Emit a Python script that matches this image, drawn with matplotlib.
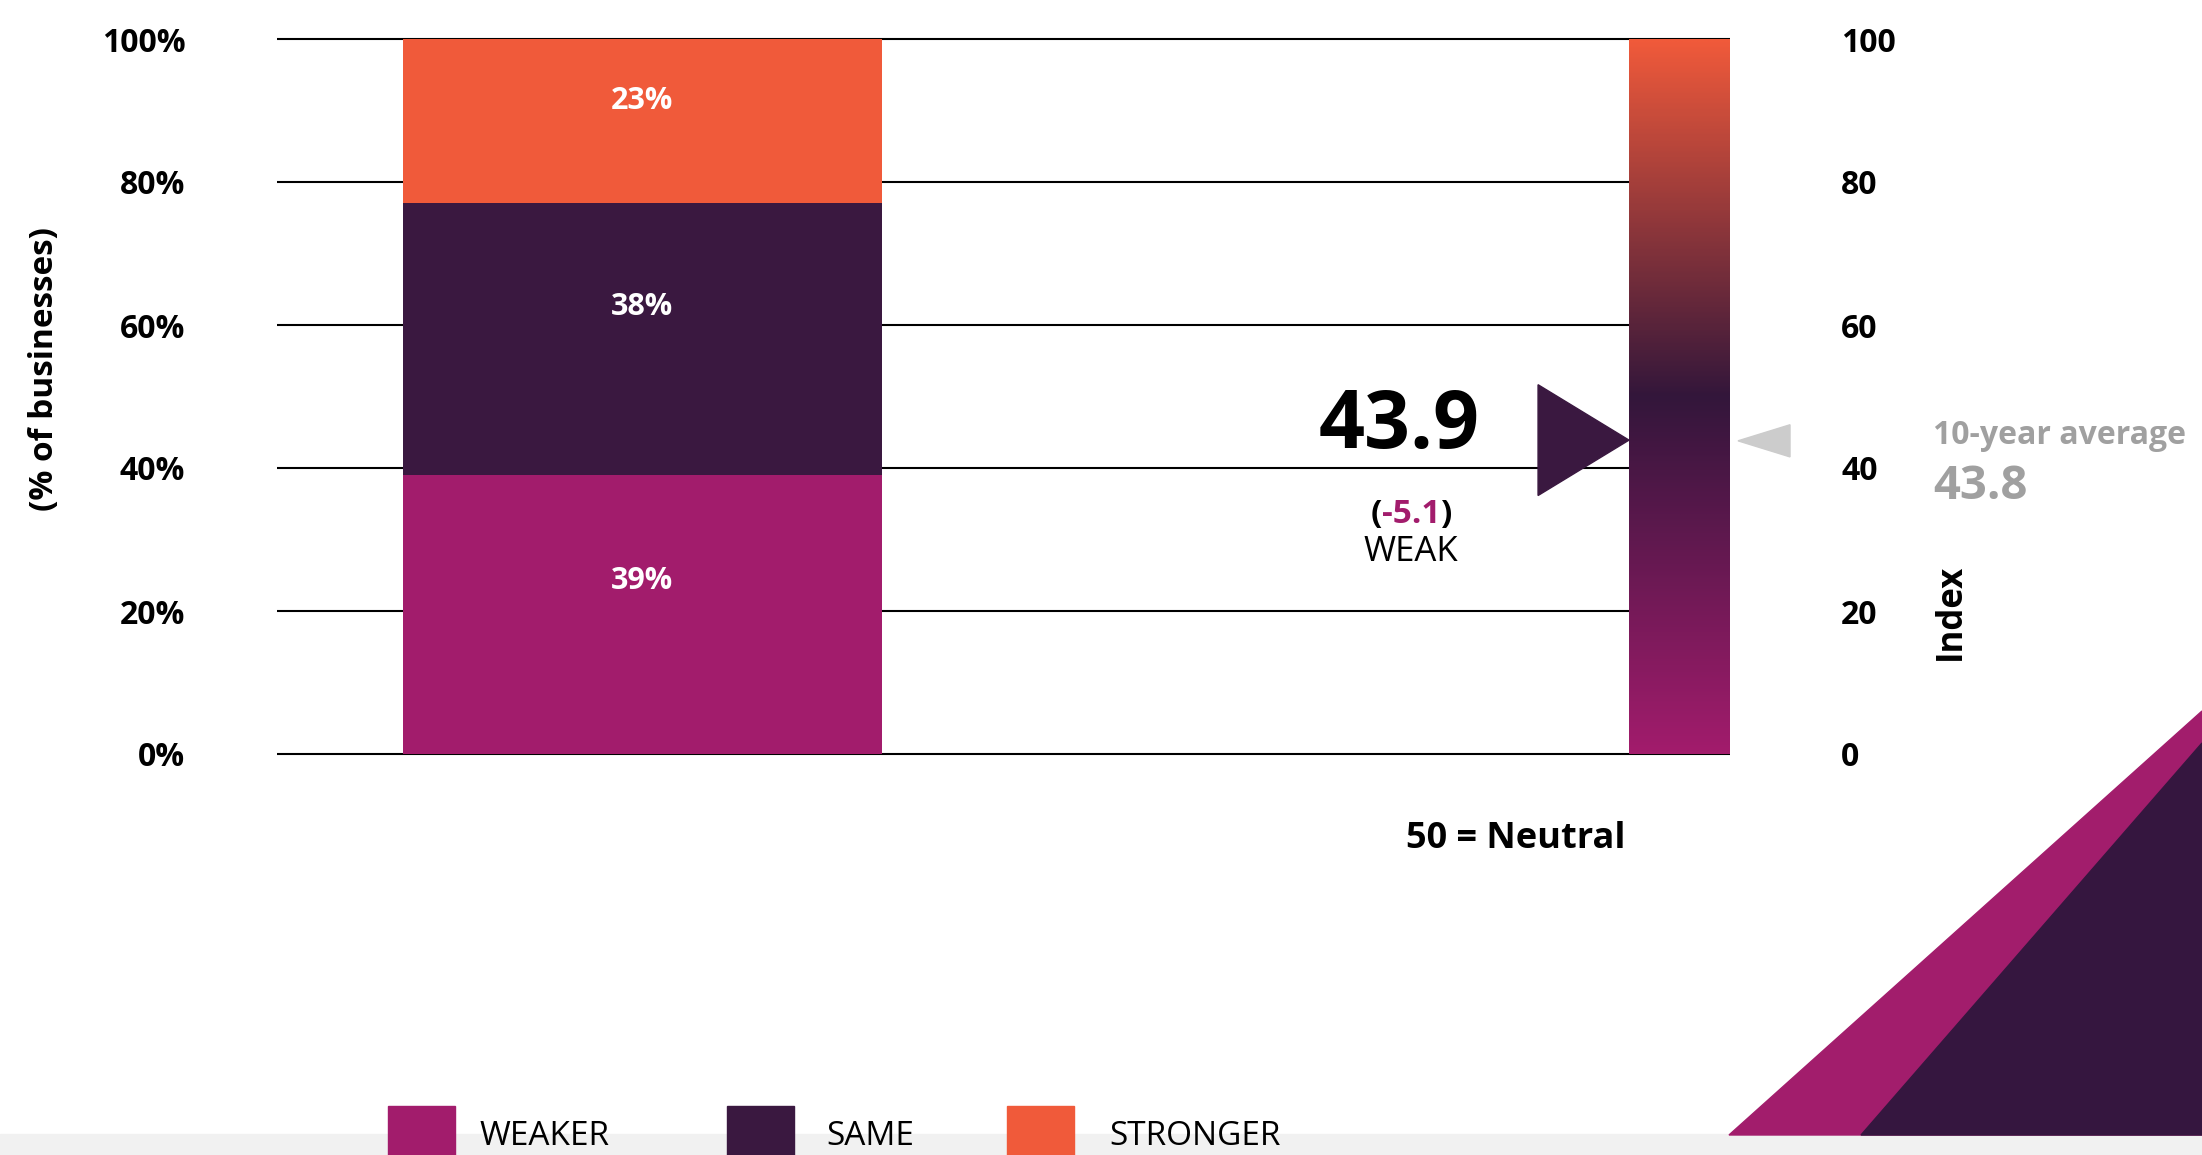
"""
Business conditions panel: share of businesses expecting weaker / same /
stronger conditions, next to the index gauge with its 10-year average.
"""

import matplotlib
matplotlib.use("Agg")
import matplotlib.pyplot as plt
import numpy as np
from matplotlib.colors import LinearSegmentedColormap
from matplotlib.patches import Polygon, Rectangle

plt.rcParams.update({
    "font.family": ["Open Sans", "DejaVu Sans"],
    "font.size": 22,
})

# ---------------------------------------------------------------------------
# Data
# ---------------------------------------------------------------------------

CATEGORIES = ["WEAKER", "SAME", "STRONGER"]
SHARES = [39, 38, 23]                      # % of businesses
COLORS = ["#a21c6c", "#3a1840", "#f05a3a"]

INDEX_VALUE = 43.9
INDEX_CHANGE = -5.1
INDEX_STATUS = "WEAK"
TEN_YEAR_AVG = 43.8
NEUTRAL = 50

PCT_TICKS = [0, 20, 40, 60, 80, 100]
PCT_LABELS = ["0%", "20%", "40%", "60%", "80%", "100%"]
INDEX_TICKS = [0, 20, 40, 60, 80, 100]

GRAY = "#a0a0a0"
GAUGE_MID = "#33163b"

# ---------------------------------------------------------------------------
# Figure
# ---------------------------------------------------------------------------

W, H = 2202, 1155
fig = plt.figure(figsize=(W / 100, H / 100), dpi=100)
ax = fig.add_axes([277 / W, 1 - 754 / H, 1453 / W, 715 / H])
for s in ax.spines.values():
    s.set_visible(False)

# horizontal rules behind the bars
ax.hlines(PCT_TICKS, 0, 1, color="black", lw=1.5, zorder=0, clip_on=False)

# stacked bar
bar_x, bar_w = 0.2515, 0.3297
bottom = 0
for cat, val, col in zip(CATEGORIES, SHARES, COLORS):
    ax.bar(bar_x, val, bar_w, bottom=bottom, color=col, zorder=2)
    ax.text(bar_x, bottom + 0.62 * val, f"{val}%", color="white",
            ha="center", va="center", fontweight="bold", fontsize=22, zorder=3)
    bottom += val

# index gauge (0-100, neutral in the middle)
gx0, gx1 = 0.9305, 1.0
cmap = LinearSegmentedColormap.from_list(
    "gauge", [(0, COLORS[0]), (NEUTRAL / 100, GAUGE_MID), (1, COLORS[2])])
ax.imshow(np.linspace(0, 100, 400).reshape(-1, 1), extent=(gx0, gx1, 0, 100),
          origin="lower", aspect="auto", cmap=cmap, vmin=0, vmax=100, zorder=2)
ax.set_xlim(0, 1)
ax.set_ylim(0, 100)

# left axis
ax.set_xticks([])
ax.set_yticks(PCT_TICKS, PCT_LABELS, fontweight="bold")
ax.tick_params(axis="y", length=0, pad=66, labelsize=23)
ax.set_ylabel("(% of businesses)", fontweight="bold", fontsize=24,
              va="center", ha="center")
ax.yaxis.set_label_coords(-0.1597, 0.5385)

# right axis
ax2 = ax.twinx()
ax2.set_ylim(0, 100)
for s in ax2.spines.values():
    s.set_visible(False)
ax2.set_yticks(INDEX_TICKS, [str(t) for t in INDEX_TICKS], fontweight="bold")
ax2.tick_params(axis="y", length=0, pad=80, labelsize=23)
ax2.set_ylabel("Index", fontweight="bold", fontsize=25, va="center", ha="center")
ax2.yaxis.set_label_coords(1.152, 0.1986)

# current reading marker
tri_w, tri_h = 0.0626, 15.5
ax.add_patch(Polygon([(gx0 - tri_w, INDEX_VALUE + tri_h / 2),
                      (gx0 - tri_w, INDEX_VALUE - tri_h / 2),
                      (gx0, INDEX_VALUE)],
                     closed=True, color=COLORS[1], zorder=4, clip_on=False))
ax.annotate(f"{INDEX_VALUE:.1f}", xy=(gx0, INDEX_VALUE), xytext=(-149, -8),
            textcoords="offset pixels", ha="right", va="baseline",
            fontsize=58, fontweight="bold", zorder=5)
chg = ax.annotate(f"{INDEX_CHANGE:.1f}", xy=(gx0, INDEX_VALUE), xytext=(-218, -83),
                  textcoords="offset pixels", ha="center", va="baseline",
                  fontsize=24, fontweight="bold", color=COLORS[0])
ax.annotate("(", xy=(0, 0), xycoords=chg, ha="right", va="bottom",
            fontsize=24, fontweight="bold")
ax.annotate(")", xy=(1, 0), xycoords=chg, ha="left", va="bottom",
            fontsize=24, fontweight="bold")
ax.annotate(INDEX_STATUS, xy=(gx0, INDEX_VALUE), xytext=(-218, -121),
            textcoords="offset pixels", ha="center", va="baseline", fontsize=25)

# 10-year average marker
ax.add_patch(Polygon([(1.0413, TEN_YEAR_AVG + 2.25),
                      (1.0413, TEN_YEAR_AVG - 2.25),
                      (1.0055, TEN_YEAR_AVG)],
                     closed=True, color="#cccccc", zorder=4, clip_on=False))
ax.annotate("10-year average", xy=(1.0055, TEN_YEAR_AVG), xytext=(195, -3),
            textcoords="offset pixels", ha="left", va="baseline",
            fontsize=23, fontweight="bold", color=GRAY, annotation_clip=False)
ax.annotate(f"{TEN_YEAR_AVG:.1f}", xy=(1.0055, TEN_YEAR_AVG), xytext=(195, -58),
            textcoords="offset pixels", ha="left", va="baseline",
            fontsize=34, fontweight="bold", color=GRAY, annotation_clip=False)

ax.text(0.9284, -0.131, f"{NEUTRAL} = Neutral", transform=ax.transAxes,
        ha="right", va="baseline", fontsize=26, fontweight="bold")

# footer band and legend
fig.add_artist(Rectangle((0, 0), 1, 21 / H, transform=fig.transFigure,
                         color="#f1f1f1", zorder=0))
legend_box_x = [388, 727, 1007]
legend_text_x = [480, 826, 1109]
for cat, col, bx, tx in zip(CATEGORIES, COLORS, legend_box_x, legend_text_x):
    fig.add_artist(Rectangle((bx / W, 0), 67 / W, 49 / H,
                             transform=fig.transFigure, color=col, zorder=1))
    fig.text(tx / W, 10 / H, cat, ha="left", va="baseline", fontsize=24)

# corner wedges
base = 1 - 1135 / H
fig.add_artist(Polygon([(1, 1 - 711 / H), (1729 / W, base), (1, base)],
                       closed=True, transform=fig.transFigure,
                       color="#a21d6c", zorder=1))
fig.add_artist(Polygon([(1, 1 - 743 / H), (1861 / W, base), (1, base)],
                       closed=True, transform=fig.transFigure,
                       color="#35163f", zorder=2))

fig.savefig("out.png", dpi=100)
